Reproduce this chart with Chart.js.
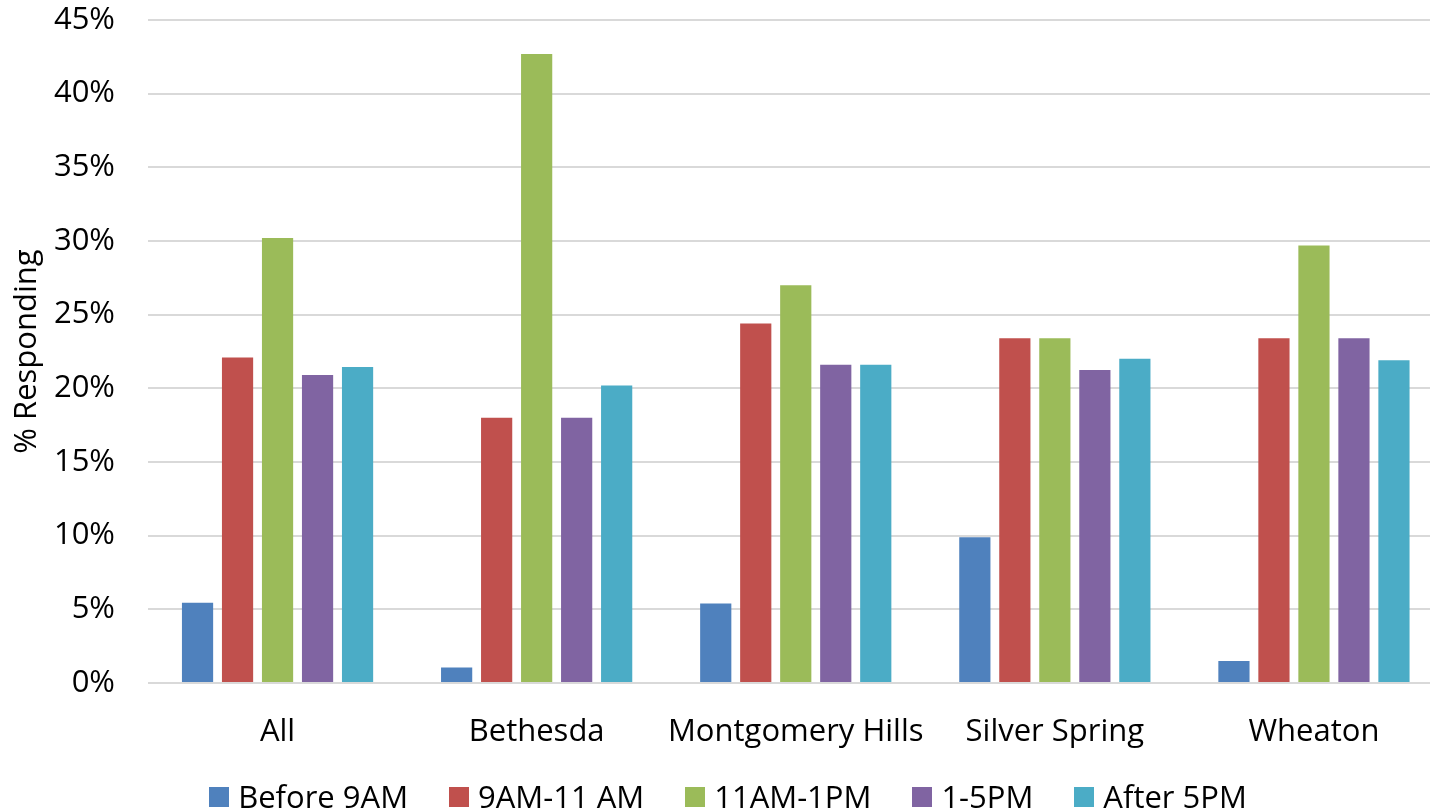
<!DOCTYPE html>
<html>
<head>
<meta charset="utf-8">
<script src="https://cdn.jsdelivr.net/npm/chart.js@4.4.1/dist/chart.umd.min.js"></script>
<style>
  html, body { margin: 0; padding: 0; background: #fff; }
  #wrap { position: relative; width: 1430px; height: 809px; overflow: hidden; }
  #c { position: absolute; left: 0; top: 0; }
  #legend {
    position: absolute; left: 0; top: 781px; width: 1456px;
    display: flex; justify-content: center; align-items: center;
    font-family: "Open Sans", sans-serif; font-size: 31px; line-height: 31px; color: #000;
  }
  .item { display: flex; align-items: center; margin: 0 20.5px; white-space: nowrap; }
  .box { width: 20px; height: 20px; margin-right: 9px; }
</style>
</head>
<body>
<div id="wrap">
  <canvas id="c" width="1456" height="809"></canvas>
  <div id="legend"></div>
</div>
<script>
// Share of respondents by preferred time of day, per location (%)
const categories = ['All', 'Bethesda', 'Montgomery Hills', 'Silver Spring', 'Wheaton'];
const seriesNames = ['Before 9AM', '9AM-11 AM', '11AM-1PM', '1-5PM', 'After 5PM'];
const before9am  = [5.45, 1.05, 5.4, 9.9, 1.5];
const am9to11    = [22.1, 18.0, 24.4, 23.4, 23.4];
const am11to1pm  = [30.2, 42.7, 27.0, 23.4, 29.7];
const pm1to5     = [20.9, 18.0, 21.6, 21.25, 23.4];
const after5pm   = [21.45, 20.2, 21.6, 22.0, 21.9];
const yTicks = [0, 5, 10, 15, 20, 25, 30, 35, 40, 45];

const seriesValues = [before9am, am9to11, am11to1pm, pm1to5, after5pm];
const colors = ['#4F81BD', '#C0504D', '#9BBB59', '#8064A2', '#4BACC6'];

const font = { family: '"Open Sans", sans-serif', size: 31 };

new Chart(document.getElementById('c'), {
  type: 'bar',
  data: {
    labels: categories,
    datasets: seriesNames.map((name, i) => ({
      label: name,
      data: seriesValues[i],
      backgroundColor: colors[i],
      borderWidth: 0,
      categoryPercentage: 0.772,
      barPercentage: 0.78
    }))
  },
  options: {
    responsive: false,
    animation: false,
    devicePixelRatio: 1,
    layout: { padding: { top: 20, right: 12.5, bottom: 26, left: 0 } },
    plugins: { legend: { display: false }, tooltip: { enabled: false } },
    scales: {
      x: {
        grid: { display: false },
        border: { display: false },
        ticks: { font: font, color: '#000', padding: 23, maxRotation: 0, autoSkip: false },
        afterFit: s => { s.height = 100; s.paddingLeft = 0; s.paddingRight = 0; }
      },
      y: {
        min: yTicks[0],
        max: yTicks[yTicks.length - 1],
        afterBuildTicks: s => { s.ticks = yTicks.map(v => ({ value: v })); },
        grid: { color: '#D9D9D9', lineWidth: 2, drawTicks: false },
        border: { display: false },
        ticks: { font: font, color: '#000', padding: 33, callback: v => v + '%' },
        title: { display: true, text: '% Responding', font: font, color: '#000', padding: { top: 9, bottom: 0 } },
        afterFit: s => { s.width = 148; s.paddingTop = 0; s.paddingBottom = 0; }
      }
    }
  }
});

// Legend row built from the series names and colours
const legend = document.getElementById('legend');
seriesNames.forEach((name, i) => {
  const item = document.createElement('div');
  item.className = 'item';
  const box = document.createElement('span');
  box.className = 'box';
  box.style.background = colors[i];
  const txt = document.createElement('span');
  txt.textContent = name;
  item.appendChild(box);
  item.appendChild(txt);
  legend.appendChild(item);
});
</script>
</body>
</html>
